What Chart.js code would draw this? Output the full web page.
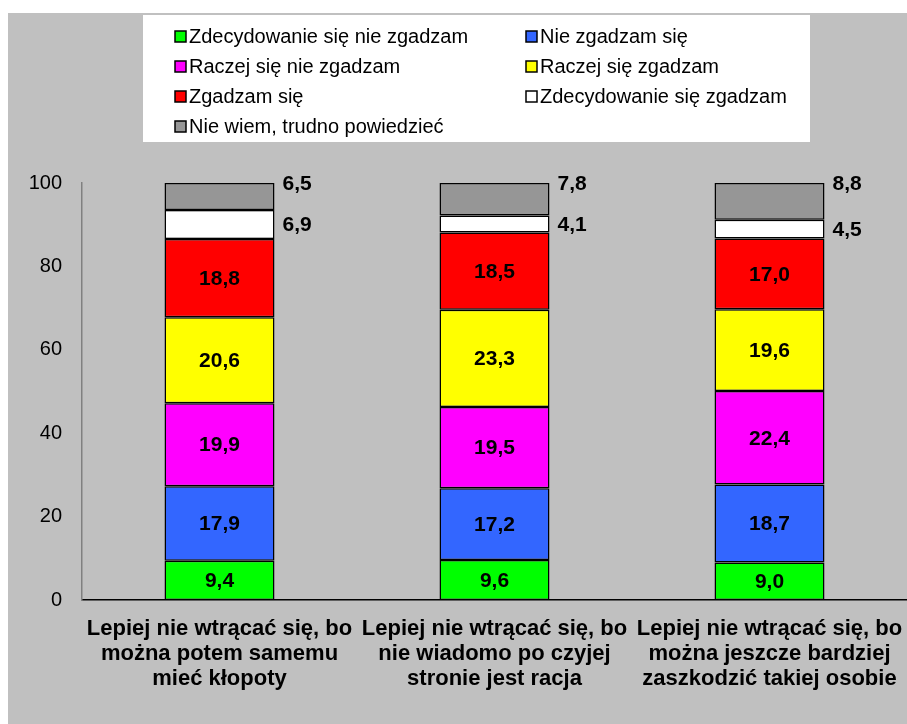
<!DOCTYPE html>
<html>
<head>
<meta charset="utf-8">
<script src="https://cdn.jsdelivr.net/npm/chart.js@4/dist/chart.umd.min.js"></script>
<style>
    body { margin: 0; background: #fff; }
    canvas { display: block; }
</style>
</head>
<body>
<canvas id="chart" width="907" height="724"></canvas>
<script>
const categories = [
    ['Lepiej nie wtrącać się, bo', 'można potem samemu', 'mieć kłopoty'],
    ['Lepiej nie wtrącać się, bo', 'nie wiadomo po czyjej', 'stronie jest racja'],
    ['Lepiej nie wtrącać się, bo', 'można jeszcze bardziej', 'zaszkodzić takiej osobie']
];

const seriesNames = [
    'Zdecydowanie się nie zgadzam',
    'Nie zgadzam się',
    'Raczej się nie zgadzam',
    'Raczej się zgadzam',
    'Zgadzam się',
    'Zdecydowanie się zgadzam',
    'Nie wiem, trudno powiedzieć'
];
const seriesColors = ['#00ff00', '#3366ff', '#ff00ff', '#ffff00', '#ff0000', '#ffffff', '#969696'];

const zdecydowanieNie = [9.4, 9.6, 9.0];
const nieZgadzam = [17.9, 17.2, 18.7];
const raczejNie = [19.9, 19.5, 22.4];
const raczejTak = [20.6, 23.3, 19.6];
const zgadzam = [18.8, 18.5, 17.0];
const zdecydowanieTak = [6.9, 4.1, 4.5];
const nieWiem = [6.5, 7.8, 8.8];
const seriesValues = [zdecydowanieNie, nieZgadzam, raczejNie, raczejTak, zgadzam, zdecydowanieTak, nieWiem];

const yTicks = [0, 20, 40, 60, 80, 100];

const FONT = 'Liberation Sans, Arial, sans-serif';

let backgroundPlugin = {
    id: 'background',
    beforeDraw(chart) {
        let ctx = chart.ctx;
        ctx.save();
        ctx.fillStyle = '#c0c0c0';
        ctx.fillRect(8, 13, chart.width - 8, chart.height - 13);
        ctx.restore();
    }
};

let legendPlugin = {
    id: 'boxLegend',
    afterDraw(chart) {
        let ctx = chart.ctx;
        ctx.save();
        ctx.fillStyle = '#ffffff';
        ctx.fillRect(143, 15, 667, 127);
        ctx.font = '20px ' + FONT;
        ctx.textBaseline = 'middle';
        ctx.textAlign = 'left';
        let cols = [175, 526];
        let rows = [36, 66, 96, 126];
        chart.data.datasets.forEach((ds, i) => {
            let x = cols[i % 2];
            let y = rows[Math.floor(i / 2)];
            ctx.fillStyle = ds.backgroundColor;
            ctx.fillRect(x, y - 5, 11, 11);
            ctx.strokeStyle = '#000';
            ctx.lineWidth = 1.5;
            ctx.strokeRect(x, y - 5, 11, 11);
            ctx.fillStyle = '#000';
            ctx.fillText(ds.label, x + 14, y + 1);
        });
        ctx.restore();
    }
};

let valueLabelPlugin = {
    id: 'valueLabels',
    afterDatasetsDraw(chart) {
        let ctx = chart.ctx;
        ctx.save();
        ctx.font = 'bold 21px ' + FONT;
        ctx.fillStyle = '#000';
        ctx.textBaseline = 'middle';
        chart.data.datasets.forEach((ds, i) => {
            let meta = chart.getDatasetMeta(i);
            meta.data.forEach((bar, j) => {
                let text = ds.data[j].toFixed(1).replace('.', ',');
                if (i < 5) {
                    ctx.textAlign = 'center';
                    ctx.fillText(text, bar.x, (bar.y + bar.base) / 2 + 1);
                } else if (i === 5) {
                    ctx.textAlign = 'left';
                    ctx.fillText(text, bar.x + bar.width / 2 + 8, (bar.y + bar.base) / 2 + 1);
                } else {
                    ctx.textAlign = 'left';
                    ctx.fillText(text, bar.x + bar.width / 2 + 8, bar.y + 1);
                }
            });
        });
        ctx.restore();
    }
};

new Chart(document.getElementById('chart'), {
    type: 'bar',
    data: {
        labels: categories,
        datasets: seriesNames.map((name, i) => ({
            label: name,
            data: seriesValues[i],
            backgroundColor: seriesColors[i],
            borderColor: '#000000',
            borderWidth: 1.5,
            borderSkipped: false,
            categoryPercentage: 1,
            barPercentage: 0.4
        }))
    },
    options: {
        responsive: false,
        animation: false,
        layout: { padding: { top: 183, left: 0, right: 0, bottom: 0 } },
        plugins: {
            legend: { display: false },
            tooltip: { enabled: false }
        },
        scales: {
            x: {
                stacked: true,
                grid: { display: false, drawTicks: false },
                border: { display: true, color: '#000000', width: 1.5 },
                ticks: {
                    color: '#000',
                    font: { family: FONT, size: 22, weight: 'bold', lineHeight: '25px' },
                    padding: 16,
                    maxRotation: 0,
                    autoSkip: false
                },
                afterFit(scale) {
                    scale.height = 124;
                    scale.paddingLeft = 0;
                    scale.paddingRight = 0;
                }
            },
            y: {
                stacked: true,
                min: 0,
                max: 100,
                afterBuildTicks(scale) { scale.ticks = yTicks.map(v => ({ value: v })); },
                grid: { display: false, drawTicks: false },
                border: { display: true, color: '#808080', width: 1.5 },
                ticks: {
                    color: '#000',
                    font: { family: FONT, size: 20 },
                    padding: 20
                },
                afterFit(scale) {
                    scale.width = 82;
                    scale.paddingTop = 0;
                    scale.paddingBottom = 0;
                }
            }
        }
    },
    plugins: [backgroundPlugin, legendPlugin, valueLabelPlugin]
});
</script>
</body>
</html>
